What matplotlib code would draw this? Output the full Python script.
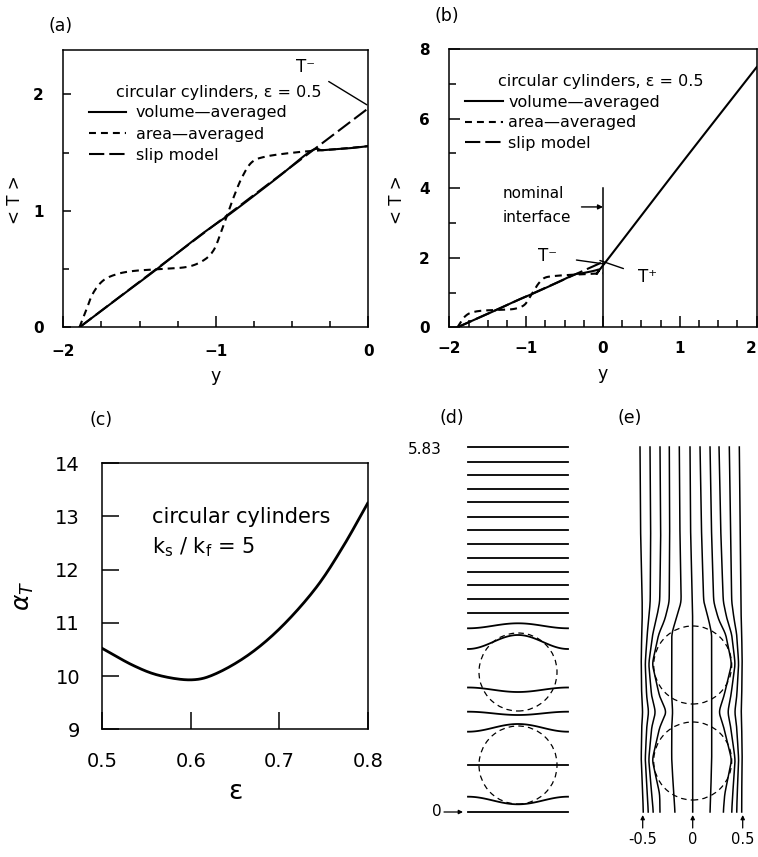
import numpy as np
import matplotlib
matplotlib.use('Agg')
import matplotlib.pyplot as plt
from matplotlib.lines import Line2D
from matplotlib.patches import Circle

plt.rcParams['font.family'] = ['DejaVu Sans']
plt.rcParams['mathtext.fontset'] = 'dejavusans'
plt.rcParams['lines.scale_dashes'] = False

# ---------------- data ----------------
# (a) / (b) mean temperature profiles
vol_a_y = [-1.894, -1.60, -1.388, -1.102, -0.904, -0.60, -0.376, -0.30, -0.20, -0.10, 0.0]
vol_a_T = [0.0, 0.29, 0.498, 0.79, 0.976, 1.28, 1.513, 1.52, 1.53, 1.54, 1.555]
area_y = [-1.894, -1.85, -1.806, -1.74, -1.652, -1.543, -1.388, -1.19, -1.08, -1.015,
          -0.97, -0.926, -0.882, -0.827, -0.761, -0.662, -0.486, -0.376, -0.2, 0.0]
area_T = [0.0, 0.146, 0.29, 0.40, 0.455, 0.483, 0.498, 0.518, 0.575, 0.66,
          0.80, 0.96, 1.12, 1.29, 1.42, 1.468, 1.50, 1.513, 1.53, 1.555]
slip_y = [-1.894, 0.0]
slip_T = [0.0, 1.88]
vol_b_y = [-1.894, -1.60, -1.388, -1.102, -0.904, -0.60, -0.376, -0.28, -0.06, 0.0, 1.0, 2.0]
vol_b_T = [0.0, 0.29, 0.498, 0.79, 0.976, 1.28, 1.513, 1.55, 1.66, 1.78, 4.65, 7.48]

# (c) alpha_T vs porosity
eps = [0.5, 0.535, 0.565, 0.601, 0.629, 0.667, 0.704, 0.742, 0.772, 0.80]
alpha = [10.52, 10.2, 10.01, 9.93, 10.05, 10.42, 10.95, 11.67, 12.43, 13.25]

# (d) isotherms: height at cell edge and at cell centre
iso_edge = [3.653, 3.503, 3.37, 3.23, 3.097, 2.953, 2.82, 2.68, 2.543, 2.403, 2.27,
            2.13, 1.993, 1.837, 1.63, 1.245, 1.003, 0.803, 0.47, 0.153, 0.0]
iso_mid = [3.653, 3.503, 3.37, 3.23, 3.097, 2.953, 2.82, 2.68, 2.543, 2.403, 2.27,
           2.13, 1.993, 1.887, 1.77, 1.20, 0.97, 0.88, 0.47, 0.077, 0.0]
d_circle_y = [1.40, 0.47]
e_circle_y = [1.47, 0.51]
circle_r = 0.39

# (e) heat-flux lines: x position at given heights
e_station_y = [3.65, 2.72, 2.10, 1.92, 1.78, 1.48, 1.15, 1.00, 0.85, 0.52, 0.18, 0.0]
e_lines = [
    [-0.527, -0.52, -0.505, -0.505, -0.51, -0.515, -0.51, -0.50, -0.51, -0.515, -0.50, -0.494],
    [-0.427, -0.42, -0.425, -0.44, -0.455, -0.475, -0.46, -0.44, -0.46, -0.475, -0.455, -0.444],
    [-0.327, -0.32, -0.33, -0.365, -0.40, -0.44, -0.41, -0.37, -0.41, -0.44, -0.41, -0.394],
    [-0.234, -0.23, -0.235, -0.28, -0.34, -0.405, -0.33, -0.26, -0.33, -0.405, -0.33, -0.327],
    [-0.134, -0.127, -0.115, -0.17, -0.21, -0.21, -0.21, -0.20, -0.21, -0.21, -0.19, -0.177],
    [-0.027, -0.02, -0.005, 0.0, 0.0, 0.0, 0.0, 0.0, 0.0, 0.0, 0.0, 0.0],
    [0.073, 0.09, 0.11, 0.16, 0.19, 0.19, 0.19, 0.19, 0.19, 0.19, 0.18, 0.173],
    [0.173, 0.19, 0.21, 0.26, 0.33, 0.39, 0.31, 0.26, 0.31, 0.39, 0.32, 0.306],
    [0.263, 0.283, 0.306, 0.345, 0.39, 0.425, 0.38, 0.35, 0.38, 0.425, 0.40, 0.39],
    [0.366, 0.38, 0.39, 0.415, 0.44, 0.46, 0.44, 0.42, 0.44, 0.46, 0.445, 0.44],
    [0.466, 0.476, 0.483, 0.485, 0.49, 0.495, 0.49, 0.485, 0.49, 0.495, 0.49, 0.49],
]
e_ticks = [-0.5, 0, 0.5]
e_ticklabels = ['-0.5', '0', '0.5']


def smooth(x, y, n=16):
    pts = np.column_stack([np.asarray(x, float), np.asarray(y, float)])
    P = np.vstack([2 * pts[0] - pts[1], pts, 2 * pts[-1] - pts[-2]])
    out = []
    t = np.linspace(0, 1, n, endpoint=False)[:, None]
    for i in range(1, len(P) - 2):
        p0, p1, p2, p3 = P[i - 1], P[i], P[i + 1], P[i + 2]
        out.append(0.5 * (2 * p1 + (-p0 + p2) * t + (2 * p0 - 5 * p1 + 4 * p2 - p3) * t ** 2
                          + (-p0 + 3 * p1 - 3 * p2 + p3) * t ** 3))
    out.append(pts[-1:])
    s = np.vstack(out)
    return s[:, 0], s[:, 1]


def smooth_vertical(xst, yst, win=0.08):
    yg = np.linspace(0, max(yst), 900)
    xg = np.interp(yg, np.asarray(yst)[::-1], np.asarray(xst)[::-1])
    k = max(3, int(win / (yg[1] - yg[0])) | 1)
    pad = k // 2
    xp = np.concatenate([np.full(pad, xg[0]), xg, np.full(pad, xg[-1])])
    xs = np.convolve(xp, np.ones(k) / k, mode='valid')
    xs = np.convolve(np.concatenate([np.full(pad, xs[0]), xs, np.full(pad, xs[-1])]),
                     np.ones(k) / k, mode='valid')
    return xs, yg


W, H = 758, 857
fig = plt.figure(figsize=(W / 100, H / 100), dpi=100)


def fpos(l, t, r, b):
    return [l / W, 1 - b / H, (r - l) / W, (b - t) / H]


SHORT = (0, (5, 3.6))
LONG = (0, (11, 3.6))
LW = 1.5

# ---------------- (a) ----------------
ax = fig.add_axes(fpos(63.3, 50, 368.3, 327.3))
xs, ys = smooth(vol_a_y, vol_a_T, 8)
ax.plot(xs, ys, color='k', lw=LW)
ax.plot(slip_y, slip_T, color='k', lw=LW, linestyle=LONG)
xs, ys = smooth(area_y, area_T, 8)
ax.plot(xs, ys, color='k', lw=LW, linestyle=SHORT)
ax.set_xlim(-2, 0)
ax.set_ylim(0, 2.38)
ax.set_xticks([-2, -1, 0])
ax.set_xticks(np.arange(-2, 0.01, 0.25), minor=True)
ax.set_yticks([0, 1, 2])
ax.set_yticks([0.5, 1.5], minor=True)
ax.set_xticklabels(['\u22122', '\u22121', '0'])
ax.tick_params(which='both', direction='in', top=False, right=False, width=1.1)
ax.tick_params(which='major', length=8, labelsize=11)
ax.tick_params(which='minor', length=4.5)
ax.tick_params(axis='y', which='major', length=6, pad=14)
ax.tick_params(axis='x', which='major', pad=12)
for lab in ax.get_xticklabels() + ax.get_yticklabels():
    lab.set_fontweight('bold')
for s in ax.spines.values():
    s.set_linewidth(1.1)
ax.text(0.51, 0.846, 'circular cylinders, \u03b5 = 0.5', transform=ax.transAxes,
        ha='center', va='center', fontsize=11.5)
handles = [Line2D([], [], color='k', lw=LW),
           Line2D([], [], color='k', lw=LW, linestyle=SHORT),
           Line2D([], [], color='k', lw=LW, linestyle=LONG)]
labels = ['volume\u2014averaged', 'area\u2014averaged', 'slip model']
ax.legend(handles, labels, loc='upper left', bbox_to_anchor=(0.085, 0.80), frameon=False,
          fontsize=11.5, handlelength=2.3, handletextpad=0.6, labelspacing=0.39,
          borderpad=0, borderaxespad=0)
ax.annotate('T\u207b', xy=(-0.01, 1.91), xytext=(-0.41, 2.23), fontsize=12,
            ha='center', va='center',
            arrowprops=dict(arrowstyle='-', lw=1.0, color='k', shrinkA=9, shrinkB=0))
ax.set_ylabel('< T >', fontsize=12)
ax.yaxis.set_label_coords(-0.128, 0.46)
ax.set_xlabel('y', fontsize=12.5, labelpad=6)

# ---------------- (b) ----------------
ax = fig.add_axes(fpos(449.3, 49, 756.7, 327.3))
xs, ys = smooth(vol_b_y, vol_b_T, 8)
ax.plot(xs, ys, color='k', lw=LW)
ax.plot(slip_y, slip_T, color='k', lw=LW, linestyle=LONG)
xs, ys = smooth(area_y, area_T, 8)
ax.plot(xs, ys, color='k', lw=LW, linestyle=SHORT)
ax.plot([0, 0], [0, 4], color='k', lw=1.1)
ax.set_xlim(-2, 2)
ax.set_ylim(0, 8)
ax.set_xticks([-2, -1, 0, 1, 2])
ax.set_xticks(np.arange(-2, 2.01, 0.25), minor=True)
ax.set_yticks([0, 2, 4, 6, 8])
ax.set_yticks([1, 3, 5, 7], minor=True)
ax.set_xticklabels(['\u22122', '\u22121', '0', '1', '2'])
ax.tick_params(which='both', direction='in', top=False, right=False, width=1.1)
ax.tick_params(which='major', length=8, labelsize=11)
ax.tick_params(which='minor', length=5)
ax.tick_params(axis='y', which='major', pad=14)
ax.tick_params(axis='x', which='major', pad=10)
for lab in ax.get_xticklabels() + ax.get_yticklabels():
    lab.set_fontweight('bold')
ax.get_xticklabels()[-1].set_horizontalalignment('right')
for s in ax.spines.values():
    s.set_linewidth(1.1)
ax.text(0.493, 0.882, 'circular cylinders, \u03b5 = 0.5', transform=ax.transAxes,
        ha='center', va='center', fontsize=11.5)
ax.legend(handles, labels, loc='upper left', bbox_to_anchor=(0.051, 0.835), frameon=False,
          fontsize=11.5, handlelength=2.4, handletextpad=0.3, labelspacing=0.34,
          borderpad=0, borderaxespad=0)
ax.text(-1.30, 3.85, 'nominal', fontsize=11, ha='left', va='center')
ax.text(-1.30, 3.17, 'interface', fontsize=11, ha='left', va='center')
ax.annotate('', xy=(0, 3.46), xytext=(-0.28, 3.46),
            arrowprops=dict(arrowstyle='-|>', lw=1.0, color='k', mutation_scale=7,
                            shrinkA=0, shrinkB=0))
ax.annotate('T\u207b', xy=(0.02, 1.82), xytext=(-0.72, 2.05), fontsize=12,
            ha='center', va='center',
            arrowprops=dict(arrowstyle='-', lw=1.0, color='k', shrinkA=12, shrinkB=0))
ax.annotate('T\u207a', xy=(-0.04, 1.92), xytext=(0.58, 1.45), fontsize=12,
            ha='center', va='center',
            arrowprops=dict(arrowstyle='-', lw=1.0, color='k', shrinkA=9, shrinkB=0))
ax.set_ylabel('< T >', fontsize=12)
ax.yaxis.set_label_coords(-0.142, 0.46)
ax.set_xlabel('y', fontsize=12.5, labelpad=6)

# ---------------- (c) ----------------
ax = fig.add_axes(fpos(102.3, 463.3, 367.7, 729.3))
xs, ys = smooth(eps, alpha, 16)
ax.plot(xs, ys, color='k', lw=2.0)
ax.set_xlim(0.5, 0.8)
ax.set_ylim(9, 14)
ax.set_xticks([0.5, 0.6, 0.7, 0.8])
ax.set_xticklabels(['0.5', '0.6', '0.7', '0.8'])
ax.set_yticks([9, 10, 11, 12, 13, 14])
ax.tick_params(direction='in', length=12, width=1.1, labelsize=14, top=False, right=False)
ax.tick_params(axis='y', pad=16)
ax.tick_params(axis='x', pad=16)
for s in ax.spines.values():
    s.set_linewidth(1.1)
ax.text(0.556, 12.99, 'circular cylinders', fontsize=15, ha='left', va='center')
ax.text(0.556, 12.42, 'k$_\\mathregular{s}$ / k$_\\mathregular{f}$ = 5', fontsize=15,
        ha='left', va='center')
ax.set_xlabel('\u03b5', fontsize=19, labelpad=6)
ax.set_ylabel(r'$\alpha_T$', fontsize=18)
ax.yaxis.set_label_coords(-0.25, 0.5)

# ---------------- (d) ----------------
ax = fig.add_axes(fpos(468, 447, 568, 812))
ax.set_xlim(-0.5, 0.5)
ax.set_ylim(0, 3.65)
ax.set_axis_off()
xg = np.linspace(-0.5, 0.5, 101)
for e, m in zip(iso_edge, iso_mid):
    ax.plot(xg, e + (m - e) * np.cos(np.pi * xg) ** 2, color='k', lw=1.3, clip_on=False)
for cy in d_circle_y:
    ax.add_patch(Circle((0, cy), circle_r, fill=False, ec='k', lw=0.9,
                        linestyle=(0, (4, 3))))
ax.text(-0.76, 3.63, '5.83', fontsize=11, ha='right', va='center')
ax.text(-0.81, 0.0, '0', fontsize=11, ha='center', va='center')
ax.annotate('', xy=(-0.55, 0.0), xytext=(-0.74, 0.0),
            arrowprops=dict(arrowstyle='-|>', lw=0.9, color='k', mutation_scale=6,
                            shrinkA=0, shrinkB=0), annotation_clip=False)

# ---------------- (e) ----------------
ax = fig.add_axes(fpos(642.7, 447, 742.7, 812))
ax.set_xlim(-0.5, 0.5)
ax.set_ylim(0, 3.65)
ax.set_axis_off()
for line in e_lines:
    xs, ys = smooth_vertical(line, e_station_y)
    ax.plot(xs, ys, color='k', lw=1.1, clip_on=False)
for cy in e_circle_y:
    ax.add_patch(Circle((0, cy), circle_r, fill=False, ec='k', lw=0.9,
                        linestyle=(0, (4, 3))))
for xt, lab in zip(e_ticks, e_ticklabels):
    ax.annotate('', xy=(xt, -0.03), xytext=(xt, -0.16),
                arrowprops=dict(arrowstyle='-|>', lw=0.9, color='k', mutation_scale=6,
                                shrinkA=0, shrinkB=0), annotation_clip=False)
    ax.text(xt, -0.27, lab, fontsize=10.5, ha='center', va='center', clip_on=False)

# ---------------- panel labels ----------------
for lab, px, py in [('(a)', 61, 26), ('(b)', 447, 16), ('(c)', 101, 420),
                    ('(d)', 452, 418), ('(e)', 630, 418)]:
    fig.text(px / W, 1 - py / H, lab, fontsize=12.5, ha='center', va='center')

fig.savefig('out.png', dpi=100)
